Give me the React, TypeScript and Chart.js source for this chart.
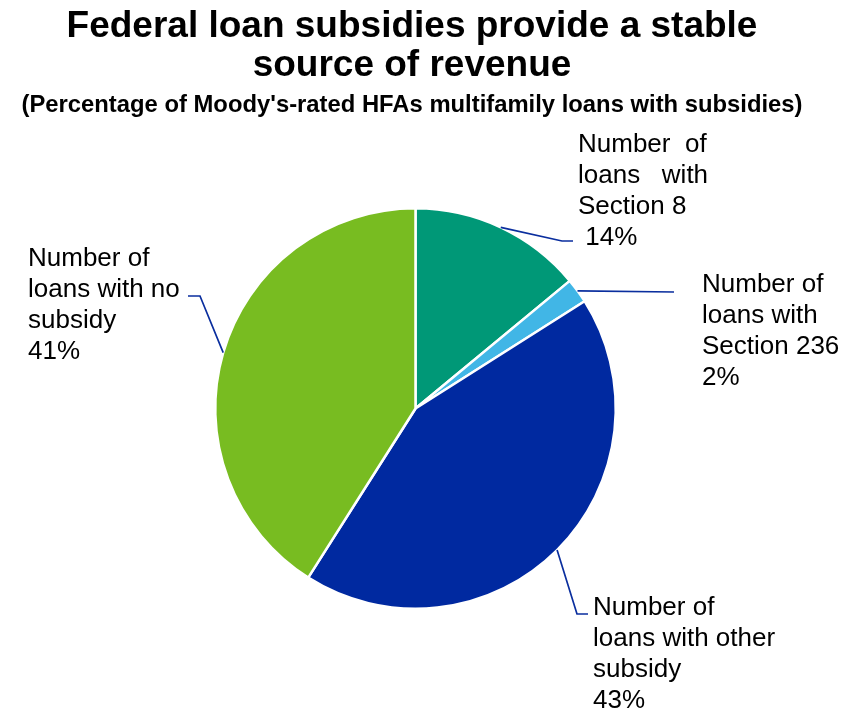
import React, { useEffect, useRef } from "react";
import { Chart, registerables } from "chart.js";

Chart.register(...registerables);

const titleLines = ["Federal loan subsidies provide a stable", "source of revenue"];
const subtitle = "(Percentage of Moody's-rated HFAs multifamily loans with subsidies)";

const categories = [
  "Number of loans with Section 8",
  "Number of loans with Section 236",
  "Number of loans with other subsidy",
  "Number of loans with no subsidy",
];
const values = [14, 2, 43, 41];
const labelLines = [
  ["Number  of", "loans   with", "Section 8"],
  ["Number of", "loans with", "Section 236"],
  ["Number of", "loans with other", "subsidy"],
  ["Number of", "loans with no", "subsidy"],
];
const valuePrefix = [" ", "", "", ""];
const colors = ["#009877", "#41b6e6", "#0029a0", "#78bc21"];

// layout for labels: text x, first baseline, leader elbow, leader end
const labelLayout = [
  { x: 578, y: 152, elbow: [562, 241], end: [573, 241] },
  { x: 702, y: 292, elbow: [674, 292], end: [674, 292] },
  { x: 593, y: 615, elbow: [577, 614], end: [588, 614] },
  { x: 28, y: 266, elbow: [200, 296], end: [188, 296] },
];

const labelPlugin = {
  id: "pieLabels",
  afterDraw(chart: any) {
    const ctx = chart.ctx;
    ctx.save();
    ctx.fillStyle = "#000";
    ctx.textAlign = "center";
    ctx.textBaseline = "alphabetic";
    ctx.font = "bold 37px 'Liberation Sans', Arial, sans-serif";
    ctx.fillText(titleLines[0], 412, 37);
    ctx.fillText(titleLines[1], 412, 76);
    ctx.font = "bold 24px 'Liberation Sans', Arial, sans-serif";
    ctx.fillText(subtitle, 412, 112, 781);

    const meta = chart.getDatasetMeta(0);
    meta.data.forEach((arc: any, i: number) => {
      const lay = labelLayout[i];
      const mid = (arc.startAngle + arc.endAngle) / 2;
      const ax = arc.x + Math.cos(mid) * arc.outerRadius;
      const ay = arc.y + Math.sin(mid) * arc.outerRadius;
      ctx.strokeStyle = "#0a2e9e";
      ctx.lineWidth = 1.7;
      ctx.beginPath();
      ctx.moveTo(ax, ay);
      ctx.lineTo(lay.elbow[0], lay.elbow[1]);
      ctx.lineTo(lay.end[0], lay.end[1]);
      ctx.stroke();

      ctx.fillStyle = "#000";
      ctx.textAlign = "left";
      ctx.font = "26px 'Liberation Sans', Arial, sans-serif";
      const lines = [...labelLines[i], valuePrefix[i] + values[i] + "%"];
      lines.forEach((t, j) => {
        ctx.fillText(t, lay.x, lay.y + j * 31);
      });
    });
    ctx.restore();
  },
};

export default function App() {
  const ref = useRef<HTMLCanvasElement>(null);
  useEffect(() => {
    if (!ref.current) return;
    const chart = new Chart(ref.current, {
      type: "pie",
      data: {
        labels: categories,
        datasets: [
          {
            data: values,
            backgroundColor: colors,
            borderColor: "#ffffff",
            borderWidth: 2.5,
          },
        ],
      },
      options: {
        responsive: false,
        animation: false,
        layout: { padding: { left: 214, top: 207, right: 234, bottom: 103 } },
        plugins: {
          legend: { display: false },
          tooltip: { enabled: false },
          title: { display: false },
        },
      },
      plugins: [labelPlugin],
    });
    return () => chart.destroy();
  }, []);
  return (
    <div style={{ position: "fixed", left: 0, top: 0, width: 851, height: 713, background: "#fff" }}>
      <canvas ref={ref} width={851} height={713} style={{ width: 851, height: 713 }} />
    </div>
  );
}
